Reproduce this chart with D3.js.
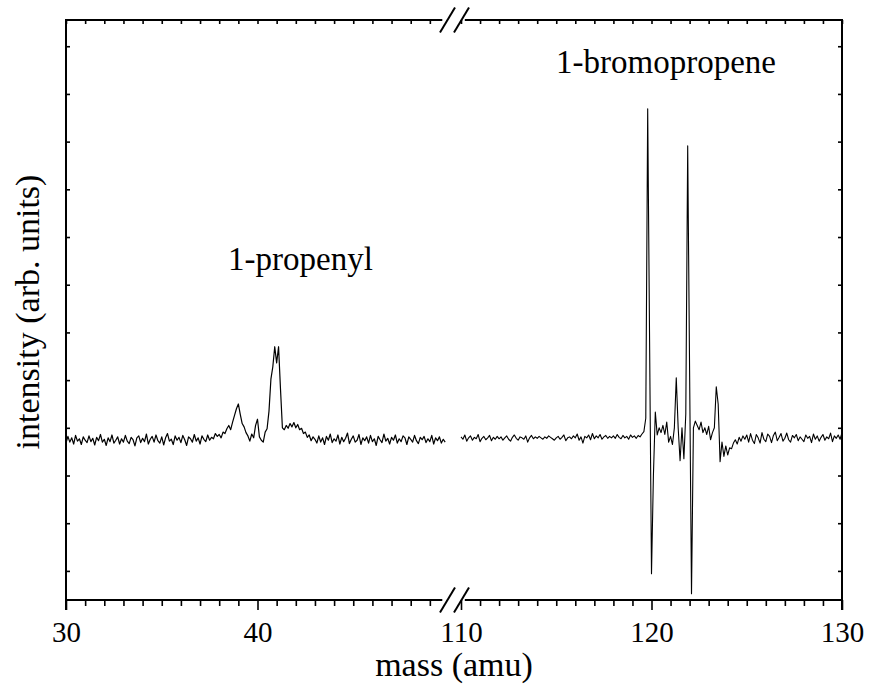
<!DOCTYPE html>
<html>
<head>
<meta charset="utf-8">
<script src="https://cdn.jsdelivr.net/npm/d3@7"></script>
<style>
  html, body { margin: 0; padding: 0; background: #fff; }
  svg { display: block; }
</style>
</head>
<body>
<svg id="chart" width="869" height="688"></svg>
<script>
// Mass spectrum, two mass windows joined by an axis break.
// Left window: 30 - 50 amu, right window: 110 - 130 amu, both sampled every 0.1 amu.
const leftStart = 30.0, rightStart = 110.0, massStep = 0.1;

const leftIntensity = [
  268, 282, 270, 279, 266, 284, 272, 277, 265, 281, 274, 269, 283, 271, 278, 264, 280, 273, 286, 270,
  276, 263, 279, 271, 285, 268, 274, 281, 266, 277, 270, 284, 272, 267, 280, 275, 262, 279, 283, 269,
  278, 271, 287, 266, 276, 282, 270, 285, 273, 268, 281, 264, 279, 288, 272, 276, 265, 283, 274, 280,
  269, 284, 275, 263, 281, 277, 270, 286, 272, 279, 266, 283, 276, 271, 285, 274, 280, 277, 288, 282,
  286, 279, 291, 288, 298, 305, 296, 312, 326, 340, 350, 328, 309, 302, 290, 283, 272, 287, 279, 305,
  318, 281, 274, 270, 291, 298, 335, 402, 428, 470, 436, 470, 382, 300, 296, 305, 299, 309, 302, 311,
  300, 307, 296, 299, 288, 291, 280, 285, 273, 281,
  276, 268, 283, 270, 279, 265, 282, 274, 287, 269, 277, 272, 285, 266, 280, 271, 278, 289, 267, 276,
  283, 270, 274, 286, 265, 279, 273, 281, 268, 284, 271, 277, 263, 282, 275, 269, 287, 272, 278, 266,
  280, 274, 285, 268, 277, 271, 283, 279, 265, 281, 276, 270, 284, 273, 267, 280, 275, 282, 269, 277,
  271, 284, 266, 279, 273, 281, 268, 276, 270
];

const rightIntensity = [
  281, 276, 285, 272, 279, 283, 274, 280, 277, 286, 271, 278, 282, 275, 279, 284, 273, 280, 276, 282,
  277, 281, 274, 279, 283, 276, 272, 280, 285, 278, 274, 281, 279, 276, 283, 270, 279, 284, 277, 281,
  278, 282, 279, 276, 281, 278, 283, 280, 277, 274, 279, 282, 276, 280, 285, 273, 279, 281, 277, 283,
  279, 287, 274, 281, 268, 282, 279, 285, 275, 288, 277, 283, 279, 286, 276, 281, 284, 278, 282, 279,
  283, 278, 286, 280, 277, 284, 279, 282, 276, 285, 280, 283, 278, 284, 281,
  287, 292, 320, 969, 480,
  -6, 200, 333, 285, 300, 290, 305, 286, 312, 270,
  282, 265, 300, 405, 300, 231, 300, 235, 329, 891,
  420, -48, 300, 314, 305, 296, 312, 290, 300, 286,
  303, 275, 290, 300, 386, 350, 229, 270, 240, 262,
  243, 258, 256, 268, 275, 266, 280, 272, 283, 276,
  285, 270, 288, 274, 267, 286, 279, 268, 290, 276, 271, 287, 282, 269, 284, 291, 273, 280, 288, 272,
  278, 289, 275, 270, 284, 279, 286, 273, 281, 276, 271, 285, 278, 282, 269, 287, 276, 283, 272, 280,
  286, 274, 281, 277, 289, 271, 283, 278, 285, 276, 290
];

// Axis ticks
const leftMajor = [30, 40];
const leftMinor = d3.range(31, 50).filter(d => d !== 40);
const rightMajor = [110, 120, 130];
const rightMinor = d3.range(111, 130).filter(d => d !== 120);
const yTicks = d3.range(0, 1200, 100);

const labels = {
  x: "mass (amu)",
  y: "intensity (arb. units)",
  propenyl: "1-propenyl",
  bromo: "1-bromopropene"
};

const serif = '"Liberation Serif", "Times New Roman", serif';
const svg = d3.select("#chart");
const frame = { left: 66, right: 842, top: 20, bottom: 600 };

const xLeft = d3.scaleLinear().domain([30, 50]).range([frame.left, 449]);
const xRight = d3.scaleLinear().domain([110, 130]).range([461, frame.right]);
const y = d3.scaleLinear().domain([-61, 1155]).range([frame.bottom, frame.top]);

const leftData = leftIntensity.map((v, i) => ({ m: leftStart + i * massStep, v }));
const rightData = rightIntensity.map((v, i) => ({ m: rightStart + i * massStep, v }));

// Spectrum traces
svg.append("path")
  .datum(leftData)
  .attr("fill", "none").attr("stroke", "#000").attr("stroke-width", 1.2)
  .attr("stroke-linejoin", "round")
  .attr("d", d3.line().x(d => xLeft(d.m)).y(d => y(d.v)));
svg.append("path")
  .datum(rightData)
  .attr("fill", "none").attr("stroke", "#000").attr("stroke-width", 1.1)
  .attr("stroke-linejoin", "round")
  .attr("d", d3.line().x(d => xRight(d.m)).y(d => y(d.v)));

function styleAxis(g, showText) {
  g.select(".domain").remove();
  g.selectAll(".tick line").attr("stroke", "#000").attr("stroke-width", 1.6);
  g.selectAll(".tick text")
    .style("font-family", serif).style("font-size", "29px")
    .attr("fill", "#000");
  if (!showText) g.selectAll(".tick text").remove();
}

// Bottom axis: outward ticks, labelled majors
[[xLeft, leftMajor, leftMinor], [xRight, rightMajor, rightMinor]].forEach(([sc, maj, min]) => {
  svg.append("g").attr("transform", `translate(0,${frame.bottom})`)
    .call(d3.axisBottom(sc).tickValues(maj).tickSize(10).tickSizeOuter(0).tickPadding(11).tickFormat(d3.format("d")))
    .call(g => styleAxis(g, true));
  svg.append("g").attr("transform", `translate(0,${frame.bottom})`)
    .call(d3.axisBottom(sc).tickValues(min).tickSize(6).tickSizeOuter(0))
    .call(g => styleAxis(g, false));
  // top axis: short inward ticks
  svg.append("g").attr("transform", `translate(0,${frame.top})`)
    .call(d3.axisBottom(sc).tickValues(maj.concat(min)).tickSize(4).tickSizeOuter(0))
    .call(g => styleAxis(g, false));
});

// Left and right axes: short inward ticks, no labels
svg.append("g").attr("transform", `translate(${frame.left},0)`)
  .call(d3.axisRight(y).tickValues(yTicks).tickSize(4).tickSizeOuter(0))
  .call(g => styleAxis(g, false));
svg.append("g").attr("transform", `translate(${frame.right},0)`)
  .call(d3.axisLeft(y).tickValues(yTicks).tickSize(4).tickSizeOuter(0))
  .call(g => styleAxis(g, false));

// Frame with the break in the top and bottom edges
const gapL = xLeft(49.65), gapR = xRight(110.2);
const frameG = svg.append("g").attr("stroke", "#000").attr("stroke-width", 2).attr("fill", "none");
frameG.append("line").attr("x1", frame.left).attr("x2", frame.left).attr("y1", frame.top - 1).attr("y2", frame.bottom + 10);
frameG.append("line").attr("x1", frame.right).attr("x2", frame.right).attr("y1", frame.top - 1).attr("y2", frame.bottom + 10);
[frame.top, frame.bottom].forEach(yy => {
  frameG.append("line").attr("x1", frame.left).attr("x2", gapL).attr("y1", yy).attr("y2", yy);
  frameG.append("line").attr("x1", gapR).attr("x2", frame.right).attr("y1", yy).attr("y2", yy);
  [xLeft(50) - 1.5, xRight(110) + 0.5].forEach(cx => {
    frameG.append("line")
      .attr("x1", cx - 7.5).attr("y1", yy + 12.5)
      .attr("x2", cx + 7.5).attr("y2", yy - 12.5);
  });
});

// Axis titles
svg.append("text")
  .attr("x", (frame.left + frame.right) / 2).attr("y", 676)
  .attr("text-anchor", "middle")
  .style("font-family", serif).style("font-size", "34px")
  .text(labels.x);
svg.append("text")
  .attr("transform", `translate(39,${(frame.top + frame.bottom) / 2 + 2}) rotate(-90)`)
  .attr("text-anchor", "middle")
  .style("font-family", serif).style("font-size", "34px")
  .text(labels.y);

// Peak annotations
svg.append("text").attr("x", 228).attr("y", 270)
  .style("font-family", serif).style("font-size", "33px").text(labels.propenyl);
svg.append("text").attr("x", 556).attr("y", 73)
  .style("font-family", serif).style("font-size", "33px").text(labels.bromo);
</script>
</body>
</html>
